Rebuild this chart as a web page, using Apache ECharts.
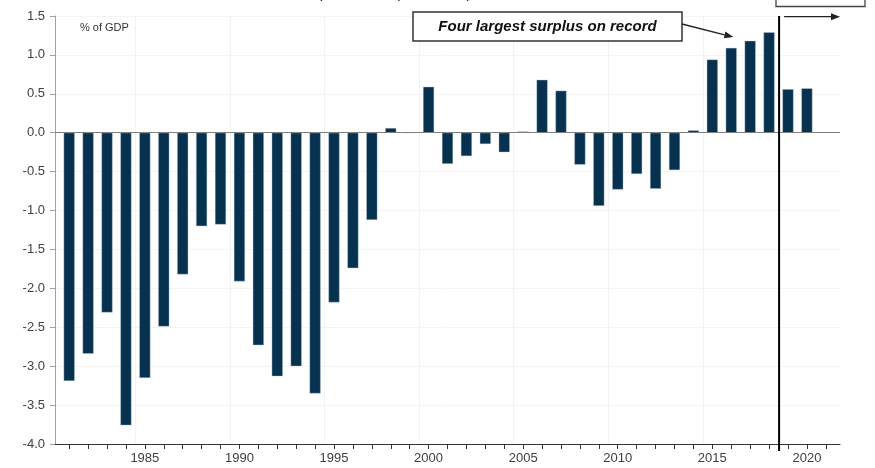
<!DOCTYPE html>
<html>
<head>
<meta charset="utf-8">
<script src="https://cdn.jsdelivr.net/npm/echarts@6/dist/echarts.min.js"></script>
<style>
html,body{margin:0;padding:0;background:#fff;}
#c{width:875px;height:468px;}
</style>
</head>
<body>
<div id="c"></div>
<script>
// ---- data ----
var years = [1981,1982,1983,1984,1985,1986,1987,1988,1989,1990,
             1991,1992,1993,1994,1995,1996,1997,1998,1999,2000,
             2001,2002,2003,2004,2005,2006,2007,2008,2009,2010,
             2011,2012,2013,2014,2015,2016,2017,2018,2019,2020];
var surplus = [-3.19,-2.84,-2.31,-3.76,-3.15,-2.49,-1.82,-1.20,-1.18,-1.91,
               -2.73,-3.13,-3.00,-3.35,-2.18,-1.74,-1.12,0.06,0.00,0.59,
               -0.40,-0.30,-0.145,-0.25,0.015,0.68,0.54,-0.41,-0.94,-0.73,
               -0.53,-0.72,-0.48,0.03,0.94,1.09,1.18,1.29,0.56,0.57];
var xTickYears = [1981,1982,1983,1984,1985,1986,1987,1988,1989,1990,
                  1991,1992,1993,1994,1995,1996,1997,1998,1999,2000,
                  2001,2002,2003,2004,2005,2006,2007,2008,2009,2010,
                  2011,2012,2013,2014,2015,2016,2017,2018,2019,2020,2021];
var xLabelYears = [1985,1990,1995,2000,2005,2010,2015,2020];
var vGridYears = [1984.5,1989.5,1994.5,1999.5,2004.5,2009.5,2014.5];
var forecastStart = 2018.53;
var unitLabel = '% of GDP';
var calloutText = 'Four largest surplus on record';
var titleText = 'Federal surplus/deficit (% of GDP)';

var chart = echarts.init(document.getElementById('c'), null, {renderer:'canvas'});

var markData = [];
vGridYears.forEach(function(y){
  markData.push({xAxis: y, lineStyle:{color:'#f2f2f2', width:1, type:'solid'}});
});
markData.push({yAxis: 0, lineStyle:{color:'#7f7f7f', width:1, type:'solid'}});

var option = {
  animation: false,
  backgroundColor: '#ffffff',
  grid: {left:55, right:35, top:16, bottom:24, containLabel:false, outerBoundsMode:'none'},
  xAxis: {
    type: 'value',
    min: 1980.25,
    max: 2021.75,
    axisLine: {show:true, onZero:false, lineStyle:{color:'#333', width:1}},
    axisTick: {show:true, customValues: xTickYears, length:5, lineStyle:{color:'#333'}},
    axisLabel: {show:true, customValues: xLabelYears, color:'#404040', fontSize:13,
                fontFamily:'Liberation Sans, Arial', margin:8,
                formatter:function(v){return String(Math.round(v));}},
    splitLine: {show:false}
  },
  yAxis: {
    type: 'value',
    min: -4,
    max: 1.5,
    interval: 0.5,
    axisLine: {show:true, lineStyle:{color:'#a0a0a0', width:1}},
    axisTick: {show:true, length:5, lineStyle:{color:'#a0a0a0'}},
    axisLabel: {color:'#404040', fontSize:13, fontFamily:'Liberation Sans, Arial', margin:10,
                formatter:function(v){return v.toFixed(1);}},
    splitLine: {show:true, lineStyle:{color:'#f4f4f4', width:1}}
  },
  series: [{
    type: 'bar',
    data: years.map(function(y,i){return [y, surplus[i]];}),
    barWidth: 11,
    itemStyle: {color:'#07324f', borderColor:'#b8c8d6', borderWidth:0.4},
    markLine: {silent:true, animation:false, symbol:['none','none'], label:{show:false}, data: markData}
  }]
};
chart.setOption(option);

function px(x, y){ return chart.convertToPixel({gridIndex:0}, [x, y]); }
function arrow(p0, p1, color, w){
  var dx = p1[0]-p0[0], dy = p1[1]-p0[1];
  var L = Math.sqrt(dx*dx+dy*dy), ux = dx/L, uy = dy/L;
  var hl = 9, hw = 3.5;
  var bx = p1[0]-ux*hl, by = p1[1]-uy*hl;
  return [
    {type:'line', z:100, shape:{x1:p0[0], y1:p0[1], x2:bx, y2:by}, style:{stroke:color, lineWidth:w}},
    {type:'polygon', z:100, shape:{points:[[p1[0],p1[1]],[bx-uy*hw, by+ux*hw],[bx+uy*hw, by-ux*hw]]}, style:{fill:color}}
  ];
}

var fTop = px(forecastStart, 1.5), fBot = px(forecastStart, -4.0);
var graphics = [
  {type:'text', z:100, left:80, top:22, style:{text:unitLabel, fill:'#333', font:'11px "Liberation Sans", Arial'}},
  {type:'text', z:100, x:244, y:1, style:{text:titleText, fill:'#222', font:'15px "Liberation Sans", Arial', textAlign:'left', textVerticalAlign:'bottom'}},
  {type:'line', z:100, shape:{x1:fTop[0], y1:fTop[1], x2:fBot[0], y2:fBot[1]+7}, style:{stroke:'#000', lineWidth:2}},
  {type:'rect', z:100, shape:{x:413, y:12, width:269, height:29}, style:{fill:'#fff', stroke:'#333', lineWidth:1.5}},
  {type:'text', z:101, x:547.5, y:26.5, style:{text:calloutText, fill:'#111', font:'italic bold 15px "Liberation Sans", Arial', textAlign:'center', textVerticalAlign:'middle'}},
  {type:'rect', z:100, shape:{x:776, y:-12, width:89, height:18.5}, style:{fill:'#fff', stroke:'#444', lineWidth:1.3}}
];
graphics = graphics.concat(arrow([fTop[0]+5, 16.7], [840, 16.7], '#222', 1.3));
graphics = graphics.concat(arrow([682, 24], px(2016.11, 1.23), '#222', 1.3));
chart.setOption({graphic: graphics});
</script>
</body>
</html>
